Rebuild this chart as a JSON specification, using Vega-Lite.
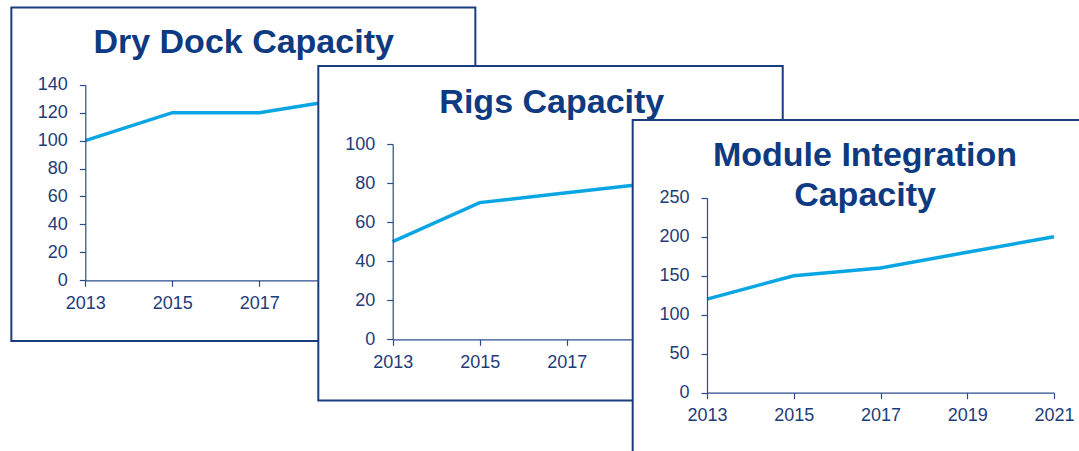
{
  "$schema": "https://vega.github.io/schema/vega-lite/v6.json",
  "width": 1079,
  "height": 451,
  "autosize": {"type": "none"},
  "padding": 0,
  "background": "white",
  "config": {
    "view": {"stroke": null},
    "axis": {
      "grid": false,
      "title": null,
      "labelFont": "Liberation Sans",
      "labelFontSize": 18,
      "labelColor": "#1e3c78",
      "domainColor": "#2b4c8c",
      "tickColor": "#2b4c8c",
      "domainWidth": 1.2,
      "tickWidth": 1.2,
      "tickSize": 6,
      "labelFlush": false,
      "labelOverlap": false
    },
    "text": {"font": "Liberation Sans", "fontWeight": "bold", "fontSize": 34, "color": "#0d3a80", "align": "center", "baseline": "alphabetic"}
  },
  "datasets": {
    "capacity": [
      {"chart": "Dry Dock Capacity", "year": 2013, "value": 100},
      {"chart": "Dry Dock Capacity", "year": 2015, "value": 120},
      {"chart": "Dry Dock Capacity", "year": 2017, "value": 120},
      {"chart": "Dry Dock Capacity", "year": 2019, "value": 130},
      {"chart": "Dry Dock Capacity", "year": 2021, "value": 140},
      {"chart": "Rigs Capacity", "year": 2013, "value": 50},
      {"chart": "Rigs Capacity", "year": 2015, "value": 70},
      {"chart": "Rigs Capacity", "year": 2017, "value": 75},
      {"chart": "Rigs Capacity", "year": 2019, "value": 80},
      {"chart": "Rigs Capacity", "year": 2021, "value": 85},
      {"chart": "Module Integration Capacity", "year": 2013, "value": 120},
      {"chart": "Module Integration Capacity", "year": 2015, "value": 150},
      {"chart": "Module Integration Capacity", "year": 2017, "value": 160},
      {"chart": "Module Integration Capacity", "year": 2019, "value": 180},
      {"chart": "Module Integration Capacity", "year": 2021, "value": 200}
    ]
  },
  "layer": [
    {
      "data": {"values": [{}]},
      "mark": {"type": "rect", "fill": "white", "stroke": "#1b3d7d", "strokeWidth": 2},
      "encoding": {
        "x": {"datum": 2011.3, "type": "quantitative", "scale": {"domain": [2013, 2018.356], "range": [85.3, 318.3], "nice": false, "zero": false}, "axis": null},
        "x2": {"datum": 2021.966},
        "y": {"datum": 195.3, "type": "quantitative", "scale": {"domain": [0, 140], "range": [280.3, 84.7], "nice": false, "zero": false}, "axis": null},
        "y2": {"datum": -43.4}
      }
    },
    {
      "data": {"values": [{}]},
      "mark": {"type": "text"},
      "encoding": {
        "x": {"datum": 2016.64, "type": "quantitative", "scale": {"domain": [2013, 2018.356], "range": [85.3, 318.3], "nice": false, "zero": false}, "axis": null},
        "y": {"datum": 162.9, "type": "quantitative", "scale": {"domain": [0, 140], "range": [280.3, 84.7], "nice": false, "zero": false}, "axis": null},
        "text": {"value": "Dry Dock Capacity"}
      }
    },
    {
      "data": {"name": "capacity"},
      "transform": [{"filter": "datum.chart == 'Dry Dock Capacity'"}],
      "mark": {"type": "line", "color": "#0aa6e4", "strokeWidth": 3.5},
      "encoding": {
        "x": {"field": "year", "type": "quantitative", "scale": {"domain": [2013, 2018.356], "range": [85.3, 318.3], "nice": false, "zero": false},
          "axis": {"orient": "bottom", "offset": -170.7, "values": [2013, 2015, 2017], "format": "d", "labelPadding": 8, "zindex": 1}},
        "y": {"field": "value", "type": "quantitative", "scale": {"domain": [0, 140], "range": [280.3, 84.7], "nice": false, "zero": false},
          "axis": {"orient": "left", "offset": -85.3, "values": [0, 20, 40, 60, 80, 100, 120, 140], "labelPadding": 12, "zindex": 1}}
      }
    },
    {
      "data": {"values": [{}]},
      "mark": {"type": "rect", "fill": "white", "stroke": "#1b3d7d", "strokeWidth": 2},
      "encoding": {
        "x": {"datum": 2011.29, "type": "quantitative", "scale": {"domain": [2013, 2018.517], "range": [392.7, 632.7], "nice": false, "zero": false}, "axis": null},
        "x2": {"datum": 2021.966},
        "y": {"datum": 139.9, "type": "quantitative", "scale": {"domain": [0, 100], "range": [339.3, 144], "nice": false, "zero": false}, "axis": null},
        "y2": {"datum": -31.4}
      }
    },
    {
      "data": {"values": [{}]},
      "mark": {"type": "text"},
      "encoding": {
        "x": {"datum": 2016.657, "type": "quantitative", "scale": {"domain": [2013, 2018.517], "range": [392.7, 632.7], "nice": false, "zero": false}, "axis": null},
        "y": {"datum": 116.0, "type": "quantitative", "scale": {"domain": [0, 100], "range": [339.3, 144], "nice": false, "zero": false}, "axis": null},
        "text": {"value": "Rigs Capacity"}
      }
    },
    {
      "data": {"name": "capacity"},
      "transform": [{"filter": "datum.chart == 'Rigs Capacity'"}],
      "mark": {"type": "line", "color": "#0aa6e4", "strokeWidth": 3.5},
      "encoding": {
        "x": {"field": "year", "type": "quantitative", "scale": {"domain": [2013, 2018.517], "range": [392.7, 632.7], "nice": false, "zero": false},
          "axis": {"orient": "bottom", "offset": -111.7, "values": [2013, 2015, 2017], "format": "d", "labelPadding": 8, "zindex": 1}},
        "y": {"field": "value", "type": "quantitative", "scale": {"domain": [0, 100], "range": [339.3, 144], "nice": false, "zero": false},
          "axis": {"orient": "left", "offset": -392.7, "values": [0, 20, 40, 60, 80, 100], "labelPadding": 12, "zindex": 1}}
      }
    },
    {
      "data": {"values": [{}]},
      "mark": {"type": "rect", "fill": "white", "stroke": "#1b3d7d", "strokeWidth": 2},
      "encoding": {
        "x": {"datum": 2011.287, "type": "quantitative", "scale": {"domain": [2013, 2021], "range": [707, 1054], "nice": false, "zero": false}, "axis": null},
        "x2": {"datum": 2026},
        "y": {"datum": 349.6, "type": "quantitative", "scale": {"domain": [0, 250], "range": [392.7, 197.7], "nice": false, "zero": false}, "axis": null},
        "y2": {"datum": -150}
      }
    },
    {
      "data": {"values": [{}]},
      "mark": {"type": "text", "lineHeight": 40},
      "encoding": {
        "x": {"datum": 2016.643, "type": "quantitative", "scale": {"domain": [2013, 2021], "range": [707, 1054], "nice": false, "zero": false}, "axis": null},
        "y": {"datum": 290.6, "type": "quantitative", "scale": {"domain": [0, 250], "range": [392.7, 197.7], "nice": false, "zero": false}, "axis": null},
        "text": {"value": ["Module Integration", "Capacity"]}
      }
    },
    {
      "data": {"name": "capacity"},
      "transform": [{"filter": "datum.chart == 'Module Integration Capacity'"}],
      "mark": {"type": "line", "color": "#0aa6e4", "strokeWidth": 3.5},
      "encoding": {
        "x": {"field": "year", "type": "quantitative", "scale": {"domain": [2013, 2021], "range": [707, 1054], "nice": false, "zero": false},
          "axis": {"orient": "bottom", "offset": -58.3, "values": [2013, 2015, 2017, 2019, 2021], "format": "d", "labelPadding": 8, "zindex": 1}},
        "y": {"field": "value", "type": "quantitative", "scale": {"domain": [0, 250], "range": [392.7, 197.7], "nice": false, "zero": false},
          "axis": {"orient": "left", "offset": -707, "values": [0, 50, 100, 150, 200, 250], "labelPadding": 12, "zindex": 1}}
      }
    }
  ],
  "resolve": {
    "scale": {"x": "independent", "y": "independent"},
    "axis": {"x": "independent", "y": "independent"}
  }
}
